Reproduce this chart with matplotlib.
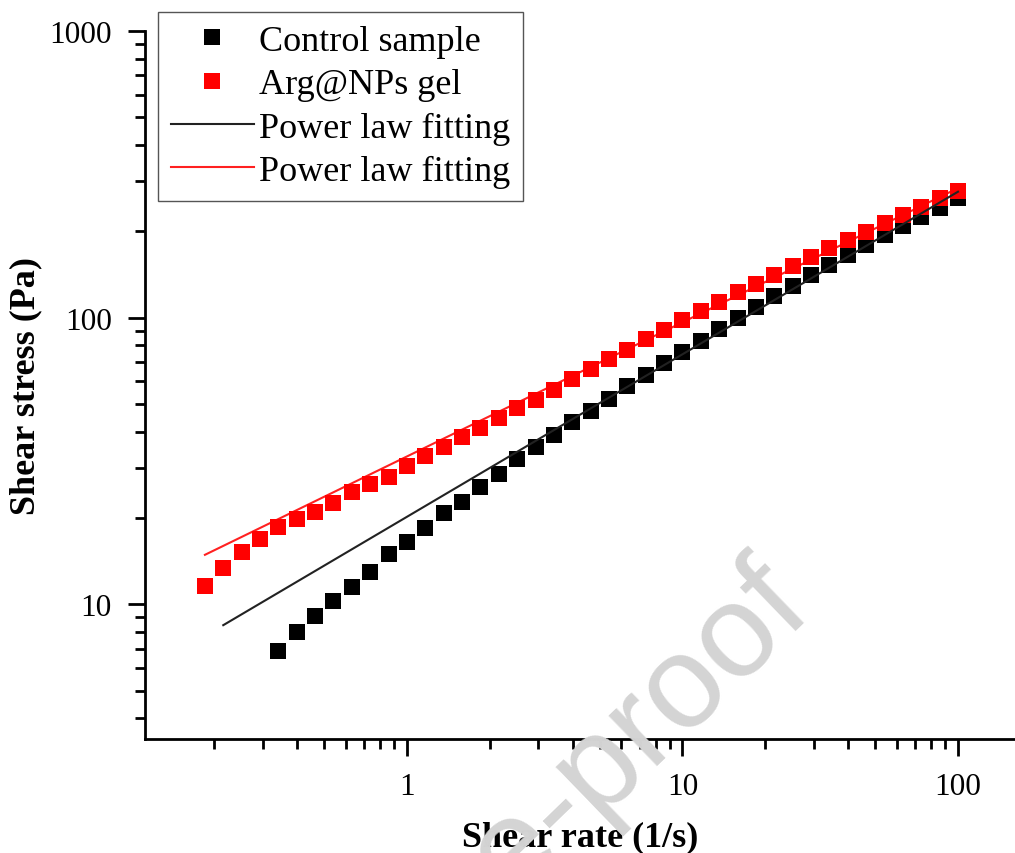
import numpy as np
import matplotlib.pyplot as plt
from matplotlib.ticker import LogLocator, NullFormatter, FixedLocator, FixedFormatter

plt.rcParams['font.family'] = ['Liberation Serif', 'DejaVu Serif']

# shear rate (1/s), 15 points per decade
rate_gel = [0.1848, 0.2154, 0.2512, 0.2929, 0.3415, 0.3981, 0.4642, 0.5412, 0.6310, 0.7356,
            0.8577, 1.0, 1.166, 1.359, 1.585, 1.848, 2.154, 2.512, 2.929, 3.415,
            3.981, 4.642, 5.412, 6.310, 7.356, 8.577, 10.0, 11.66, 13.59, 15.85,
            18.48, 21.54, 25.12, 29.29, 34.15, 39.81, 46.42, 54.12, 63.10, 73.56,
            85.77, 100.0]
stress_gel = [11.6, 13.4, 15.25, 16.9, 18.6, 19.9, 21.0, 22.6, 24.7, 26.3,
              27.9, 30.4, 33.0, 35.5, 38.4, 41.3, 44.8, 48.5, 51.7, 56.1,
              61.2, 66.4, 71.9, 77.3, 84.5, 90.8, 98.4, 105.8, 113.7, 123.3,
              131.4, 141.3, 151.9, 163.3, 175.5, 187.3, 199.7, 214.6, 228.9, 244.1,
              262.3, 277.5]

rate_ctrl = rate_gel[4:]
stress_ctrl = [6.88, 8.02, 9.12, 10.3, 11.5, 13.0, 15.0, 16.5, 18.5, 20.9,
               22.8, 25.7, 28.5, 32.2, 35.5, 39.0, 43.4, 47.4, 52.2, 57.9,
               63.2, 69.6, 76.1, 83.1, 91.5, 100.0, 109.2, 119.4, 129.3, 141.3,
               153.1, 165.9, 179.8, 194.9, 209.5, 225.1, 242.0, 262.3]

# power law fits: stress = K * rate^n
K_ctrl, n_ctrl = 20.2, 0.567
K_gel, n_gel = 32.8, 0.468
fit_ctrl_x = np.array([0.2154, 100.0])
fit_gel_x = np.array([0.1848, 100.0])

fig = plt.figure(figsize=(10.15, 8.54), dpi=100)
ax = fig.add_axes([145/1015, 114/854, 1 - 145/1015, (740-32)/854])

ax.plot(rate_ctrl, stress_ctrl, 's', color='black', ms=11, mew=0, label='Control sample', zorder=3)
ax.plot(rate_gel, stress_gel, 's', color='#ff0000', ms=11, mew=0, label='Arg@NPs gel', zorder=4)
ax.plot(fit_ctrl_x, K_ctrl * fit_ctrl_x**n_ctrl, '-', color='#222222', lw=1.5,
        label='Power law fitting', zorder=5)
ax.plot(fit_gel_x, K_gel * fit_gel_x**n_gel, '-', color='#ff2020', lw=1.5,
        label='Power law fitting', zorder=2)

ax.set_xscale('log')
ax.set_yscale('log')
ax.set_xlim(0.112, 161)
ax.set_ylim(3.39, 1000)

for s in ['top', 'right']:
    ax.spines[s].set_visible(False)
for s in ['left', 'bottom']:
    ax.spines[s].set_linewidth(2)

ax.xaxis.set_major_locator(FixedLocator([1, 10, 100]))
ax.xaxis.set_major_formatter(FixedFormatter(['1', '10', '100']))
ax.yaxis.set_major_locator(FixedLocator([10, 100, 1000]))
ax.yaxis.set_major_formatter(FixedFormatter(['10', '100', '1000']))
ax.xaxis.set_minor_locator(LogLocator(base=10, subs=np.arange(2, 10), numticks=20))
ax.yaxis.set_minor_locator(LogLocator(base=10, subs=np.arange(2, 10), numticks=20))
ax.xaxis.set_minor_formatter(NullFormatter())
ax.yaxis.set_minor_formatter(NullFormatter())
ax.tick_params(which='major', direction='out', length=12, width=2, labelsize=22.5, pad=12)
ax.tick_params(which='minor', direction='out', length=7, width=2)

ax.set_xlabel('Shear rate (1/s)', fontsize=26, fontweight='bold', labelpad=14)
ax.set_ylabel('Shear stress (Pa)', fontsize=26, fontweight='bold', labelpad=5)

leg = ax.legend(loc='upper left', bbox_to_anchor=(158/1015, 1 - 13/854),
                bbox_transform=fig.transFigure, borderaxespad=0, fontsize=26,
                fancybox=False, framealpha=1, edgecolor='#555555',
                handlelength=2.3, handletextpad=0.15, labelspacing=0.28,
                borderpad=0.35)
leg.get_frame().set_linewidth(1.0)

# watermark
fig.text(815, 240, 'Journal Pre-proof', transform=None, fontsize=95,
         family='Liberation Sans', color='#d4d4d4', rotation=44,
         rotation_mode='anchor', ha='right', va='baseline', zorder=10)

fig.savefig('out.png', dpi=100)
